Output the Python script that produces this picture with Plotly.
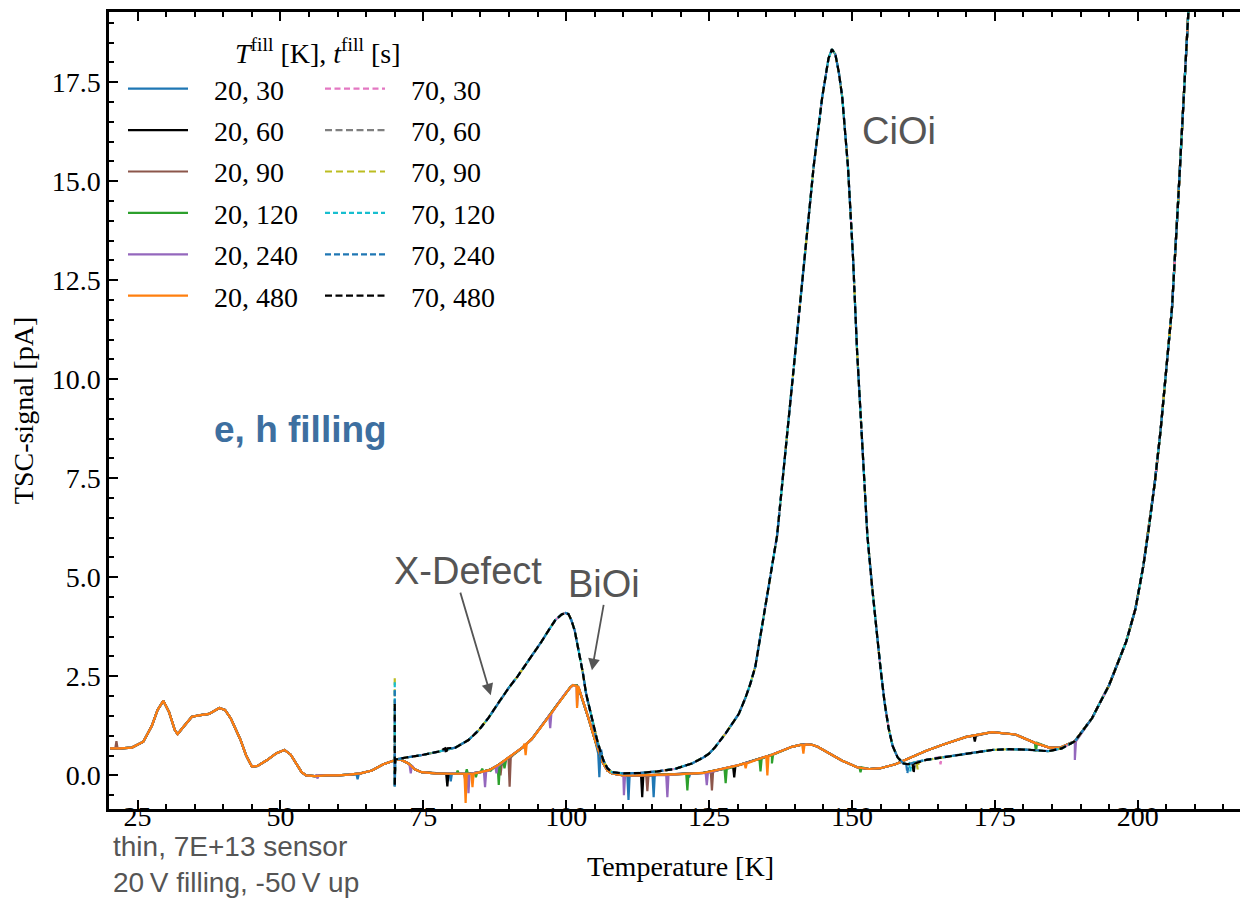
import plotly.graph_objects as go

# ---------------- data ----------------
# base curve of the 20 K filling measurements (solid lines)
T20 = [20.2, 22.0, 24.0, 26.0, 27.5, 28.5, 29.5, 30.5, 31.5, 32.0, 33.0, 34.5, 36.0, 37.5,
       39.3, 40.3, 41.3, 42.2, 43.0, 44.0, 45.0, 46.0, 47.6, 49.3, 50.7, 51.8, 52.8, 53.7,
       54.5, 56.0, 58.0, 60.0, 62.0, 64.0, 66.0, 68.0, 70.0, 71.0, 72.4, 73.5, 74.7, 77.0,
       80.0, 83.0, 85.0, 86.5, 88.0, 89.5, 91.0, 92.5, 94.0, 95.5, 97.0, 98.5, 100.0, 100.7,
       101.2, 101.8, 102.2, 103.0, 103.9, 105.1, 106.3, 107.2, 108.0, 110.0, 113.0, 116.0,
       120.0, 124.0, 127.0, 130.0, 133.0, 136.0, 139.5, 141.0, 142.0, 143.0, 144.0, 146.0,
       148.3, 151.0, 153.0, 155.0, 157.6, 160.0, 163.0, 166.0, 170.0, 174.5, 178.6, 182.0,
       184.5, 186.5, 189.0, 192.0, 195.0, 198.0, 199.6, 201.0, 202.0, 203.0, 204.0, 205.0,
       206.0, 207.0, 208.0, 209.0, 210.0]
S20 = [0.68, 0.68, 0.70, 0.85, 1.25, 1.65, 1.88, 1.60, 1.15, 1.04, 1.22, 1.48, 1.52, 1.55,
       1.70, 1.65, 1.44, 1.15, 0.90, 0.50, 0.22, 0.24, 0.38, 0.56, 0.64, 0.52, 0.30, 0.08,
       0.00, -0.02, 0.00, 0.00, 0.02, 0.05, 0.12, 0.28, 0.38, 0.40, 0.30, 0.15, 0.08, 0.05,
       0.04, 0.04, 0.08, 0.13, 0.25, 0.40, 0.55, 0.72, 0.92, 1.20, 1.50, 1.80, 2.10, 2.22,
       2.28, 2.28, 2.20, 1.85, 1.44, 0.86, 0.35, 0.12, 0.05, 0.00, 0.00, 0.01,
       0.03, 0.06, 0.15, 0.25, 0.38, 0.52, 0.72, 0.77, 0.78, 0.77, 0.72, 0.56,
       0.37, 0.20, 0.16, 0.18, 0.28, 0.43, 0.62, 0.78, 0.97, 1.09, 1.03, 0.82,
       0.70, 0.70, 0.86, 1.44, 2.28, 3.38, 4.20, 5.30, 6.30, 7.40, 8.70, 10.2,
       11.8, 14.3, 17.0, 19.6, 22.3]

# base curve of the 70 K filling measurements (dashed lines)
T70 = [70.1, 72.0, 74.7, 77.7, 80.6, 82.9, 84.7, 86.4, 88.0, 89.9, 91.5, 92.9, 94.5, 95.7,
       97.0, 98.1, 99.2, 99.9, 100.4, 100.9, 101.5, 102.3, 102.9, 103.5, 104.2, 104.8, 105.4,
       105.9, 106.5, 107.2, 108.0, 110.0, 113.0, 116.0, 119.0, 122.0, 124.0, 125.0, 126.0,
       127.9, 129.0, 130.2, 131.4, 132.2, 133.1, 134.2, 135.5, 136.9, 138.5, 140.1, 141.6,
       143.3, 144.8, 145.3, 145.9, 146.5, 147.1, 147.7, 148.3, 149.3, 150.2, 150.9, 151.8,
       152.7, 153.5, 154.3, 155.0, 155.7, 156.4, 157.1, 158.0, 159.0, 159.8, 161.0, 163.0,
       166.0, 168.7, 171.5, 174.5, 177.5, 180.4, 184.4, 186.7, 189.0, 192.0, 195.0, 198.0,
       199.6, 201.0, 202.0, 203.0, 204.0, 205.0, 206.0, 207.0, 208.0, 209.0, 210.0]
S70 = [0.40, 0.45, 0.51, 0.60, 0.70, 0.89, 1.14, 1.45, 1.80, 2.20, 2.50, 2.79, 3.10, 3.38,
       3.68, 3.92, 4.06, 4.10, 4.07, 3.92, 3.65, 3.10, 2.60, 2.05, 1.60, 1.20, 0.90,
       0.65, 0.38, 0.18, 0.08, 0.05, 0.06, 0.10, 0.16, 0.30, 0.45, 0.55, 0.70,
       1.06, 1.30, 1.55, 1.97, 2.30, 2.75, 3.71, 4.85, 6.05, 8.38, 10.7, 13.04,
       15.37, 17.12, 17.62, 18.10, 18.33, 18.20, 17.75, 17.12, 15.37, 13.04, 10.7, 8.38,
       6.05, 4.80, 3.60, 2.70, 1.85, 1.20, 0.75, 0.45, 0.30, 0.28, 0.33, 0.39,
       0.46, 0.52, 0.58, 0.64, 0.66, 0.65, 0.61, 0.68, 0.86, 1.44, 2.28, 3.38,
       4.20, 5.30, 6.30, 7.40, 8.70, 10.2, 11.8, 14.3, 17.0, 19.6, 22.3]

fill_times = [30, 60, 90, 120, 240, 480]
colors20 = ["#1f77b4", "#000000", "#8c564b", "#2ca02c", "#9467bd", "#ff7f0e"]
colors70 = ["#e377c2", "#7f7f7f", "#bcbd22", "#17becf", "#1f77b4", "#000000"]
dashes70 = ["6px,3.5px", "7px,3.5px", "7px,4px", "5px,3px", "6px,3px", "7px,3.5px"]

# first reading of each 70 K run (vertical start spike at 70 K)
start_top70 = [1.50, 1.20, 2.45, 2.35, 2.15, 1.80]
start_low70 = -0.28

# noise spikes: (temperature, curve level, spike tip)
spikes20 = {
    30: [(63.5, 0.03, -0.10), (79.8, 0.04, -0.15), (105.8, 0.55, -0.05), (110.9, 0.0, -0.62),
         (115.3, 0.01, -0.55), (121.5, 0.04, -0.05)],
    60: [(79.2, 0.04, -0.28), (82.4, 0.04, -0.20), (113.3, 0.0, -0.55), (129.4, 0.22, -0.05),
         (171.5, 1.00, 0.85)],
    90: [(21.3, 0.68, 0.86), (88.5, 0.25, 0.0), (90.1, 0.45, -0.29), (114.2, 0.0, -0.40),
         (125.5, 0.09, -0.38)],
    120: [(81.0, 0.04, 0.12), (82.6, 0.04, 0.15), (84.2, 0.06, -0.05), (85.3, 0.10, 0.17),
          (86.8, 0.15, 0.12), (88.2, 0.25, -0.24), (89.2, 0.35, 0.18), (121.2, 0.04, -0.38),
          (127.9, 0.16, -0.20), (134.0, 0.42, 0.10), (136.0, 0.52, 0.30), (151.5, 0.20, 0.08),
          (182.2, 0.82, 0.60)],
    240: [(56.5, 0.0, -0.08), (72.8, 0.25, 0.05), (82.9, 0.04, -0.45), (85.8, 0.10, -0.30),
          (87.8, 0.22, 0.05), (97.2, 1.55, 1.19), (101.9, 2.25, 1.75), (110.1, 0.0, -0.50),
          (117.7, 0.01, -0.55), (124.6, 0.06, -0.25), (189.0, 0.86, 0.39)],
    480: [(82.4, 0.04, -0.70), (83.6, 0.04, -0.30), (92.9, 0.80, 0.51), (101.9, 2.25, 1.70),
          (131.4, 0.30, 0.18), (135.2, 0.48, 0.0), (141.5, 0.77, 0.55)],
}
spikes70 = {
    30: [(165.5, 0.46, 0.28)],
    60: [],
    90: [(161.5, 0.34, 0.15)],
    120: [(160.2, 0.30, 0.10)],
    240: [(159.7, 0.28, 0.05), (105.9, 0.65, 0.30)],
    480: [(160.8, 0.30, 0.05), (79.0, 0.68, 0.55)],
}


def build(T, S, spikes, prefix=()):
    pts = list(prefix) + list(zip(T, S))
    for t, lvl, tip in spikes:
        pts += [(t - 0.2, lvl), (t, tip), (t + 0.2, lvl)]
    pts.sort(key=lambda p: p[0])
    return [p[0] for p in pts], [p[1] for p in pts]


SERIF = "Liberation Serif"
SANS = "Liberation Sans"
NB = "\u00a0"

fig = go.Figure()

for i, tf in enumerate(fill_times):
    x, y = build(T20, S20, spikes20[tf])
    fig.add_trace(go.Scatter(
        x=x, y=y, mode="lines", name=f"{NB*3}20, {tf}",
        line=dict(color=colors20[i], width=2.2),
        legend="legend", legendgroup=f"a{i}", showlegend=True))

for i, tf in enumerate(fill_times):
    x, y = build(T70, S70, spikes70[tf],
                 prefix=[(70.0, start_top70[i]), (70.0, start_low70)])
    fig.add_trace(go.Scatter(
        x=x, y=y, mode="lines", name=f"{NB*3}70, {tf}",
        line=dict(color=colors70[i], width=2.2, dash=dashes70[i]),
        legend="legend2", legendgroup=f"b{i}", showlegend=True))

W, H = 1248, 898
L, R, T, B = 101, 4, 4, 97
pw, ph = W - L - R, H - T - B


def px2paper(px, py):
    return (px - L) / pw, (H - B - py) / ph


ANN = "#555555"
annotations = []
for txt, xx, yy in [("X-Defect", 82.9, 5.15), ("BiOi", 106.7, 4.82), ("CiOi", 158.2, 16.26)]:
    annotations.append(dict(x=xx, y=yy, xref="x", yref="y", text=txt, showarrow=False,
                            xanchor="center", yanchor="middle",
                            font=dict(family=SANS, size=38, color=ANN)))
for (tx, ty), (hx, hy) in [((81.4, 4.65), (86.8, 2.02)), ((106.6, 4.34), (104.5, 2.65))]:
    annotations.append(dict(x=hx, y=hy, ax=tx, ay=ty, xref="x", yref="y", axref="x", ayref="y",
                            text="", showarrow=True, arrowhead=2, arrowsize=1.3,
                            arrowwidth=1.8, arrowcolor=ANN))
annotations.append(dict(x=53.5, y=8.72, xref="x", yref="y", text="<b>e, h filling</b>",
                        xanchor="center", yanchor="middle", showarrow=False,
                        font=dict(family=SANS, size=37, color="#3d6fa0")))
lx, ly = px2paper(310, 44)
annotations.append(dict(x=lx, y=ly, xref="paper", yref="paper", showarrow=False,
                        xanchor="center", yanchor="middle",
                        text="<i>T</i><sup>fill</sup> [K], <i>t</i><sup>fill</sup> [s]",
                        font=dict(family=SERIF, size=28, color="black")))
bx, by = px2paper(103, 857)
annotations.append(dict(x=bx, y=by, xref="paper", yref="paper", xanchor="left",
                        yanchor="middle", align="left", showarrow=False,
                        text="thin, 7E+13 sensor<br>20\u2009V filling, -50\u2009V up",
                        font=dict(family=SANS, size=28, color=ANN)))

leg1x, leg1y = px2paper(115, 56)
leg2x, _ = px2paper(312, 56)
legend_common = dict(font=dict(family=SERIF, size=28, color="black"), bgcolor="rgba(0,0,0,0)",
                     borderwidth=0, itemwidth=60, traceorder="grouped", tracegroupgap=2,
                     yanchor="top", xanchor="left", itemclick=False)

axis_common = dict(showline=True, linewidth=2.5, linecolor="black", mirror="ticks",
                   ticks="inside", ticklen=9, tickwidth=2, tickcolor="black",
                   showgrid=False, zeroline=False,
                   tickfont=dict(family=SERIF, size=28, color="black"))

fig.update_layout(
    width=W, height=H,
    margin=dict(l=L, r=R, t=T, b=B, autoexpand=False),
    paper_bgcolor="white", plot_bgcolor="white",
    showlegend=True,
    legend=dict(x=leg1x, y=leg1y, **legend_common),
    legend2=dict(x=leg2x, y=leg1y, **legend_common),
    annotations=annotations,
    xaxis=dict(range=[20, 220], tick0=0, dtick=25, ticklabelstandoff=-19,
               minor=dict(dtick=5, ticks="inside", ticklen=5, tickwidth=1.5, tickcolor="black"),
               title=dict(text="Temperature [K]", font=dict(family=SERIF, size=28, color="black"),
                          standoff=26),
               **axis_common),
    yaxis=dict(range=[-0.85, 19.27], tick0=0, dtick=2.5, tickformat=".1f",
               minor=dict(dtick=0.5, ticks="inside", ticklen=5, tickwidth=1.5, tickcolor="black"),
               title=dict(text="TSC-signal [pA]", font=dict(family=SERIF, size=28, color="black"),
                          standoff=12),
               **axis_common),
)

fig.write_html("out.html")
